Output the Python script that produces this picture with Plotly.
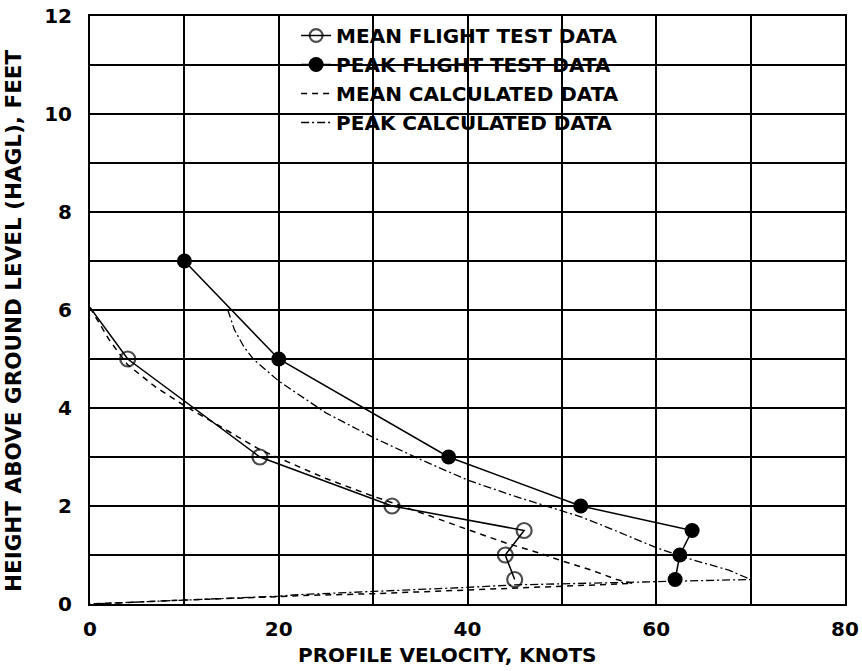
import plotly.graph_objects as go

# ---- data ----
mean_test_v = [0, 4, 18, 32, 46, 44, 45]
mean_test_h = [6.05, 5, 3, 2, 1.5, 1, 0.5]
mean_test_marker = [0, 15, 15, 15, 15, 15, 15]

peak_test_v = [10, 20, 38, 52, 63.8, 62.5, 62]
peak_test_h = [7, 5, 3, 2, 1.5, 1.0, 0.5]

mean_calc_v = [0, 2, 4, 7, 10, 14, 18, 20, 25, 30, 32, 36, 40, 44, 47.6, 50, 53, 55.8, 57.5,
               50, 45, 40, 30, 22, 20, 10, 5, 0]
mean_calc_h = [6.05, 5.4, 4.88, 4.42, 4.05, 3.6, 3.15, 2.98, 2.56, 2.2, 2.07, 1.8, 1.52, 1.25,
               1.04, 0.88, 0.7, 0.5, 0.42,
               0.36, 0.32, 0.28, 0.21, 0.17, 0.15, 0.08, 0.04, 0]

peak_calc_v = [14.6, 15.3, 16.3, 17.3, 20, 25, 30, 35, 40, 45, 50, 52, 55, 60, 63, 67.7, 70,
               65, 60, 55, 50, 45, 40, 30, 22, 20, 10, 2, 0]
peak_calc_h = [6.0, 5.6, 5.25, 5.0, 4.55, 3.9, 3.4, 2.95, 2.53, 2.2, 1.9, 1.78, 1.55, 1.15, 0.95,
               0.69, 0.5,
               0.48, 0.45, 0.43, 0.42, 0.39, 0.34, 0.26, 0.19, 0.16, 0.08, 0.02, 0]

x_ticks = [0, 20, 40, 60, 80]
y_ticks = [0, 2, 4, 6, 8, 10, 12]

x_title = "PROFILE VELOCITY, KNOTS"
y_title = "HEIGHT ABOVE GROUND LEVEL (HAGL), FEET"

FONT = "DejaVu Sans"

fig = go.Figure()
fig.add_trace(go.Scatter(
    x=mean_test_v, y=mean_test_h, mode="lines+markers", name="MEAN FLIGHT TEST DATA",
    line=dict(color="black", width=1.5),
    marker=dict(symbol="circle-open", size=mean_test_marker, color="black", line=dict(width=2.2)),
))
fig.add_trace(go.Scatter(
    x=peak_test_v, y=peak_test_h, mode="lines+markers", name="PEAK FLIGHT TEST DATA",
    line=dict(color="black", width=1.5),
    marker=dict(symbol="circle", size=15, color="black"),
))
fig.add_trace(go.Scatter(
    x=mean_calc_v, y=mean_calc_h, mode="lines", name="MEAN CALCULATED DATA",
    line=dict(color="black", width=1.5, dash="6px,5px"),
))
fig.add_trace(go.Scatter(
    x=peak_calc_v, y=peak_calc_h, mode="lines", name="PEAK CALCULATED DATA",
    line=dict(color="black", width=1.3, dash="8px,3px,2px,3px"),
))

axis_common = dict(
    showline=True, linecolor="black", linewidth=2, mirror=True,
    showgrid=True, gridcolor="black", gridwidth=2,
    zeroline=False, ticks="", automargin=False,
    tickfont=dict(family=FONT, size=20, color="black", weight="bold"),
)

fig.update_xaxes(
    range=[0, 80], tickvals=x_ticks, ticktext=[str(v) for v in x_ticks],
    minor=dict(dtick=10, showgrid=True, gridcolor="black", gridwidth=2),
    ticklabelstandoff=6,
    **axis_common,
)
fig.update_yaxes(
    range=[0, 12], tickvals=y_ticks, ticktext=[str(v) for v in y_ticks],
    minor=dict(dtick=1, showgrid=True, gridcolor="black", gridwidth=2),
    ticklabelstandoff=12,
    **axis_common,
)

fig.add_annotation(
    text=x_title, xref="paper", yref="paper", x=0.473, y=-0.0867,
    xanchor="center", yanchor="middle", showarrow=False,
    font=dict(family=FONT, size=20, color="black", weight="bold"),
)
fig.add_annotation(
    text=y_title, xref="paper", yref="paper", x=-0.1007, y=0.483,
    xanchor="center", yanchor="middle", showarrow=False, textangle=-90,
    font=dict(family=FONT, size=21.5, color="black", weight="bold"),
)

fig.update_layout(
    width=862, height=671,
    margin=dict(l=90, r=17, t=16, b=67),
    paper_bgcolor="white", plot_bgcolor="white",
    showlegend=True,
    legend=dict(
        x=0.273, y=1.0, xanchor="left", yanchor="top",
        bgcolor="rgba(0,0,0,0)", borderwidth=0,
        font=dict(family=FONT, size=20, color="black", weight="bold"),
        tracegroupgap=0,
    ),
)

# remove the browser's default 8px body margin so the figure fills the window
fig.write_html("out.html", config={"displayModeBar": False},
               post_script="document.body.style.margin='0px';")
